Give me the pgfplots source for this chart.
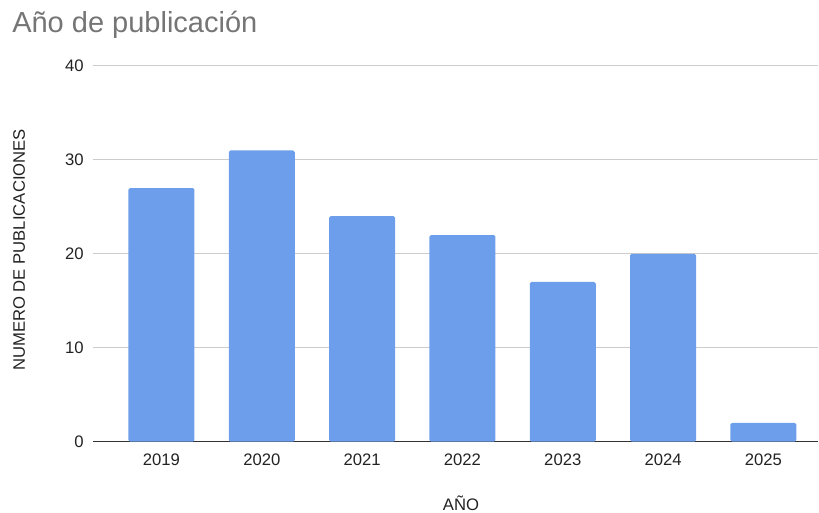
\documentclass[border=0pt]{standalone}
\usepackage{pgfplots}
\pgfplotsset{compat=1.18}
\usepackage{fontspec}
\setmainfont{Liberation Sans}

\definecolor{barblue}{HTML}{6D9EEB}
\definecolor{gridgray}{HTML}{CCCCCC}
\definecolor{titlegray}{HTML}{757575}
\definecolor{textdark}{HTML}{222222}
\definecolor{baseline}{HTML}{333333}

\begin{document}
\begin{tikzpicture}
% overall canvas
\path[use as bounding box] (-70.1pt,-53.5pt) rectangle (544.15pt,331.25pt);

\begin{axis}[
  at={(0,0)}, anchor=south west,
  scale only axis,
  width=543.4pt, height=281.8pt,
  xmin=-0.678, xmax=6.544,
  ymin=0, ymax=40,
  ytick={0,10,20,30,40},
  xtick={0,1,2,3,4,5,6},
  xticklabels={2019,2020,2021,2022,2023,2024,2025},
  major tick length=0pt,
  axis x line*=bottom,
  axis y line*=left,
  y axis line style={draw=none},
  x axis line style={draw=baseline, line width=1pt},
  ymajorgrids,
  grid style={draw=gridgray, line width=0.8pt},
  tick label style={font=\fontsize{12.5}{14}\selectfont, text=textdark},
  /pgf/number format/assume math mode=true,
  xticklabel style={anchor=base, yshift=-18.2pt, inner sep=0pt},
  yticklabel style={anchor=east, xshift=-7.1pt, inner sep=0pt},
  xlabel={AÑO},
  ylabel={NUMERO DE PUBLICACIONES},
  label style={font=\fontsize{12.5}{14}\selectfont, text=textdark, inner sep=0pt},
  xlabel style={at={(axis description cs:0.5072,-0.1845)}, anchor=base},
  ylabel style={at={(axis description cs:-0.0946,0.5103)}, anchor=base},
  ybar, bar width=49.5pt,
]
\addplot[fill=barblue, draw=none, rounded corners=1.2pt] coordinates {
  (0,27) (1,31) (2,24) (3,22) (4,17) (5,20) (6,2)
};
\end{axis}

\node[anchor=base west, inner sep=0pt, text=titlegray,
      font=\fontsize{21.75}{24}\selectfont] at (-61.1pt,306.5pt) {Año de publicación};
\end{tikzpicture}
\end{document}
